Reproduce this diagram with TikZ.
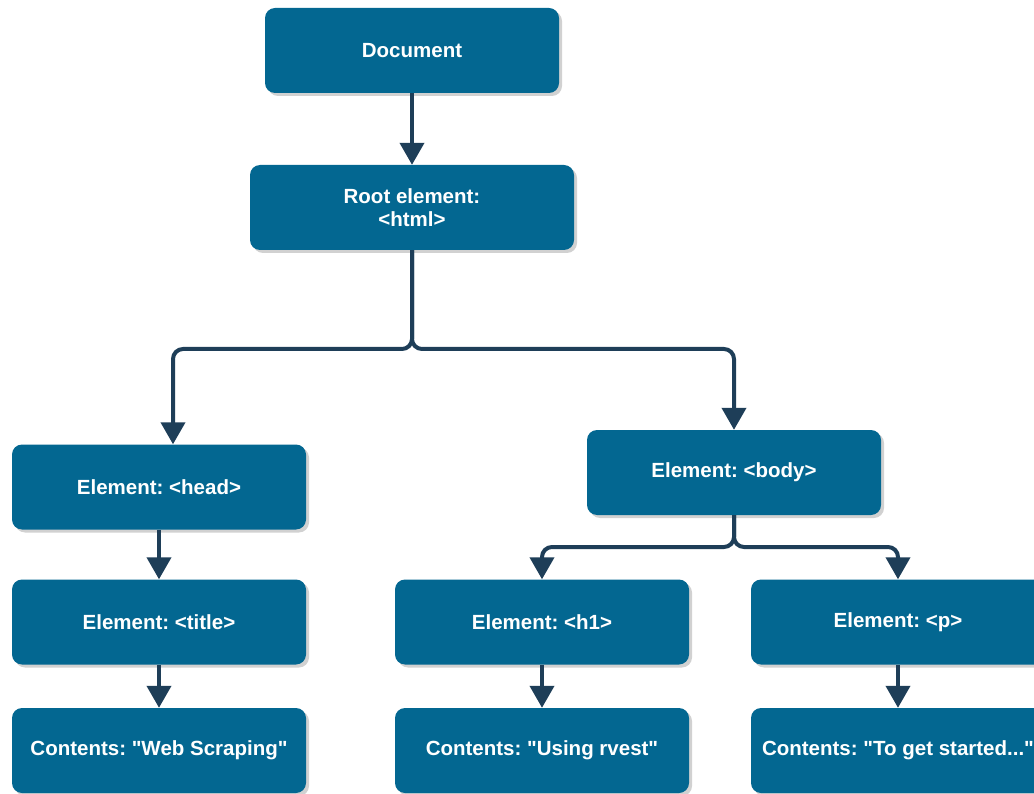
\documentclass[tikz,border=0pt]{standalone}
\usepackage{fontspec}
\newfontfamily\domfont{Liberation Sans}
\usepackage{tikz}
\usetikzlibrary{positioning, arrows.meta, shadows}

\definecolor{boxblue}{RGB}{3,103,145}
\definecolor{linkblue}{RGB}{30,62,88}
\newcommand{\dq}{\symbol{34}}
\frenchspacing

\tikzset{
  domnode/.style={rectangle, rounded corners=10pt, fill=boxblue, text=white,
    font=\domfont\bfseries\fontsize{20.5}{22.5}\selectfont, align=center, inner sep=0pt,
    minimum width=294pt, minimum height=85pt,
    drop shadow={shadow xshift=3pt, shadow yshift=-3pt, fill=black, opacity=0.18}},
  link/.style={-{Triangle[width=24pt,length=22pt]}, line width=4pt, draw=linkblue, rounded corners=10pt}
}

\begin{document}
\begin{tikzpicture}[x=1pt, y=-1pt]
    \useasboundingbox (0,0) rectangle (1034,794);
    \clip (0,0) rectangle (1034,794);

    % Tree nodes
    \node[domnode] (doc) at (412,50.5) {Document};
    \node[domnode, minimum width=324pt] (root) at (412,207.5) {Root element:\\<html>};
    \foreach \name/\x/\y/\txt in {head/159/487/{Element: <head>}, body/734/472.5/{Element: <body>},
        title/159/622/{Element: <title>}, h1/542/622/{Element: <h1>}, p/898/622/{Element: <p>},
        web/159/750.5/{Contents: \dq Web Scraping\dq}, rvest/542/750.5/{Contents: \dq Using rvest\dq},
        started/898/750.5/{Contents: \dq To get started...\dq}} {
      \node[domnode] (\name) at (\x,\y) {\txt};
    }

    % Split points
    \coordinate (rootsplit) at (412,349);
    \coordinate (bodysplit) at (734,547);

    % Connectors
    \draw[link] (doc) -- (root);
    \draw[link] (root.south) -- (rootsplit) -| ([xshift=14pt]head.north);
    \draw[link] (root.south) -- (rootsplit) -| (body.north);
    \draw[link] (body.south) -- (bodysplit) -| (h1.north);
    \draw[link] (body.south) -- (bodysplit) -| (p.north);
    \draw[link] (head) -- (title);
    \draw[link] (title) -- (web);
    \draw[link] (h1) -- (rvest);
    \draw[link] (p) -- (started);

  \end{tikzpicture}
\end{document}
